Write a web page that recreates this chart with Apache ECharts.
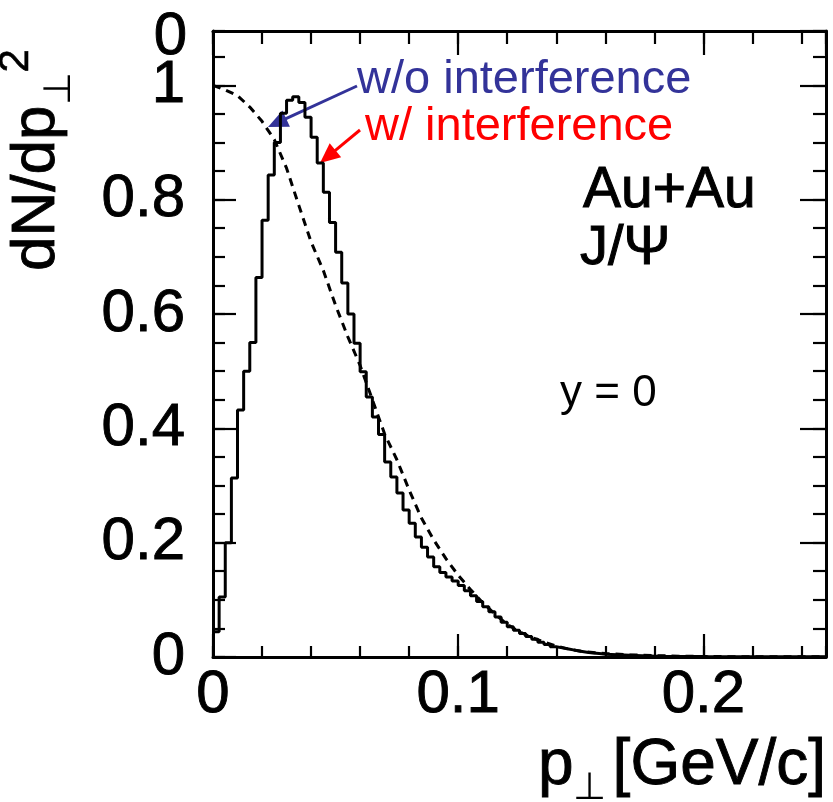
<!DOCTYPE html>
<html><head><meta charset="utf-8">
<script src="https://cdn.jsdelivr.net/npm/echarts@6/dist/echarts.min.js"></script>
<style>html,body{margin:0;padding:0;background:#fff}#c{width:833px;height:802px}</style>
</head><body><div id="c"></div>
<script>
// ---- data ----
const binWidth = 0.0025; // GeV/c
// "w/ interference" histogram, one value per bin starting at p=0
const withInterference = [
  0.044, 0.105, 0.20, 0.313, 0.432, 0.50, 0.55, 0.664, 0.764, 0.843,
  0.90, 0.951, 0.974, 0.98, 0.97, 0.944, 0.909, 0.864, 0.813, 0.76,
  0.708, 0.654, 0.60, 0.549, 0.499, 0.455, 0.42, 0.389, 0.341, 0.315,
  0.287, 0.257, 0.234, 0.21, 0.192, 0.175, 0.158, 0.148, 0.14, 0.133,
  0.125, 0.116, 0.107, 0.097, 0.088, 0.079, 0.07, 0.061, 0.053, 0.047,
  0.041, 0.036, 0.031, 0.026, 0.022, 0.018, 0.016, 0.014, 0.012, 0.010,
  0.0085, 0.007, 0.006, 0.005, 0.0045, 0.004, 0.0035, 0.003, 0.0025, 0.002,
  0.002, 0.0015, 0.0015, 0.001, 0.001, 0.001, 0.001, 0.001, 0.001, 0.001,
  0.0005, 0.0005, 0.0005, 0.0005, 0.0005, 0.0005, 0.0005, 0.0005, 0.0005, 0.0005,
  0.0005, 0.0005, 0.0005, 0.0005, 0.0005, 0.0005, 0.0005, 0.0005, 0.0005, 0.0005
];
// "w/o interference" curve (dashed)
const noInterfP = [0, 0.005, 0.01, 0.015, 0.02, 0.025, 0.03, 0.035, 0.04, 0.045,
  0.05, 0.055, 0.06, 0.065, 0.07, 0.075, 0.08, 0.085, 0.09, 0.095,
  0.1, 0.105, 0.11, 0.115, 0.12, 0.125, 0.13, 0.135, 0.14, 0.145,
  0.15, 0.16, 0.17, 0.18, 0.19, 0.2, 0.21, 0.22, 0.23, 0.24, 0.25];
const noInterfV = [1.0, 0.992, 0.982, 0.962, 0.937, 0.905, 0.855, 0.79, 0.726, 0.676,
  0.615, 0.56, 0.51, 0.45, 0.39, 0.345, 0.292, 0.243, 0.205, 0.172,
  0.143, 0.118, 0.095, 0.075, 0.057, 0.044, 0.034, 0.026, 0.019, 0.014,
  0.01, 0.006, 0.004, 0.0025, 0.0015, 0.001, 0.0007, 0.0005, 0.0004, 0.0003, 0.0003];
const xTickLabels = ['0', '0.1', '0.2'];
const yTickLabels = ['0', '0.2', '0.4', '0.6', '0.8', '1'];

// ---- build ----
const histData = withInterference.map((v, i) => [i * binWidth, v]);
histData.push([withInterference.length * binWidth, withInterference[withInterference.length - 1]]);
const dashData = noInterfP.map((p, i) => [p, noInterfV[i]]);

const FONT = '"Liberation Sans", Arial, Helvetica, sans-serif';
const black = '#000';
const XMAX = 0.25, YMAX = 1.095;

function labelFmt(list) {
  return function (v) {
    for (const s of list) { if (Math.abs(parseFloat(s) - v) < 1e-9) return s; }
    return '';
  };
}
const labelStyle = { color: black, fontSize: 60, fontFamily: FONT, textBorderColor: black, textBorderWidth: 0.9 };
function xAx(grid, pos, interval, tickLen, labels) {
  return {
    type: 'value', gridIndex: grid, position: pos, min: 0, max: XMAX, interval: interval,
    axisLine: { show: grid === 0, onZero: false, lineStyle: { color: black, width: 3 } },
    axisTick: { show: true, inside: true, length: tickLen, lineStyle: { color: black, width: 2.2 } },
    axisLabel: labels ? Object.assign({ show: true, formatter: labelFmt(xTickLabels), margin: 8, showMaxLabel: false }, labelStyle) : { show: false },
    splitLine: { show: false }
  };
}
function yAx(grid, pos, interval, tickLen, labels) {
  return {
    type: 'value', gridIndex: grid, position: pos, min: 0, max: YMAX, interval: interval,
    axisLine: { show: grid === 0, onZero: false, lineStyle: { color: black, width: 3 } },
    axisTick: { show: true, inside: true, length: tickLen, lineStyle: { color: black, width: 2.2 } },
    axisLabel: labels ? Object.assign({ show: true, formatter: labelFmt(yTickLabels), margin: 28, showMaxLabel: false }, labelStyle) : { show: false },
    splitLine: { show: false }
  };
}

function arrow(x1, y1, x2, y2, color) {
  const dx = x2 - x1, dy = y2 - y1, L = Math.hypot(dx, dy), ux = dx / L, uy = dy / L;
  const hl = 20, hw = 9;
  const bx = x2 - ux * hl, by = y2 - uy * hl;
  return [
    { type: 'line', shape: { x1: x1, y1: y1, x2: bx + ux * 2, y2: by + uy * 2 }, style: { stroke: color, lineWidth: 3 } },
    { type: 'polygon', shape: { points: [[x2, y2], [bx - uy * hw, by + ux * hw], [bx + uy * hw, by - ux * hw]] }, style: { fill: color } }
  ];
}
function txt(x, y, text, size, color, align, thick) {
  const st = { text: text, font: size + 'px ' + FONT, fill: color, align: align || 'left', verticalAlign: 'middle' };
  if (thick) { st.stroke = color; st.lineWidth = thick; }
  return { type: 'text', x: x, y: y, style: st };
}

const blue = '#333399', red = '#ff0000';
const gridBox = { left: 213, top: 31, width: 613, height: 626 };

const chart = echarts.init(document.getElementById('c'), null, { renderer: 'canvas' });
chart.setOption({
  animation: false,
  backgroundColor: '#fff',
  grid: [Object.assign({}, gridBox), Object.assign({}, gridBox)],
  xAxis: [xAx(0, 'bottom', 0.02, 11, false), xAx(0, 'top', 0.02, 13, false),
          xAx(1, 'bottom', 0.1, 23, true), xAx(1, 'top', 0.1, 24, false)],
  yAxis: [yAx(0, 'left', 0.05, 12, false), yAx(0, 'right', 0.05, 13, false),
          yAx(1, 'left', 0.2, 23, true), yAx(1, 'right', 0.2, 26, false)],
  series: [
    { name: 'w/ interference', type: 'line', xAxisIndex: 0, yAxisIndex: 0, step: 'end', data: histData,
      showSymbol: false, symbol: 'none', lineStyle: { color: black, width: 3 }, z: 3 },
    { name: 'w/o interference', type: 'line', xAxisIndex: 0, yAxisIndex: 0, data: dashData,
      showSymbol: false, symbol: 'none', lineStyle: { color: black, width: 3, type: [8, 6] }, z: 2 }
  ],
  graphic: [].concat(
    arrow(357, 86, 268, 127, blue),
    arrow(360, 130, 320, 163, red),
    [
      txt(357, 80, 'w/o interference', 47, blue),
      txt(365, 127, 'w/ interference', 47, red),
      txt(583, 191, 'Au+Au', 57, black, 'left', 1),
      txt(580, 249, 'J/\u03A8', 56, black, 'left', 1),
      txt(560, 394, 'y = 0', 44, black),
      txt(187, 37, '0', 60, black, 'right', 0.9),
      { type: 'text', x: 37, y: 160, rotation: Math.PI / 2,
        style: { text: '{a|dN/dp}{b|\u22A5}{c|2}', align: 'center', verticalAlign: 'middle',
          rich: { a: { font: '62px ' + FONT, fill: black, stroke: black, lineWidth: 0.9, lineHeight: 84 },
                  b: { font: '38px ' + FONT, fill: black, verticalAlign: 'bottom', lineHeight: 84 },
                  c: { font: '42px ' + FONT, fill: black, stroke: black, lineWidth: 0.6, verticalAlign: 'top', lineHeight: 84 } } } },
      { type: 'text', x: 826, y: 766,
        style: { text: '{a|p}{b|\u22A5}{s| }{a|[GeV/c]}', align: 'right', verticalAlign: 'middle',
          rich: { a: { font: '64px ' + FONT, fill: black, stroke: black, lineWidth: 0.9, lineHeight: 84 },
                  s: { font: '22px ' + FONT, lineHeight: 84 },
                  b: { font: '38px ' + FONT, fill: black, verticalAlign: 'bottom', lineHeight: 84 } } } }
    ]
  )
});
</script>
</body></html>
